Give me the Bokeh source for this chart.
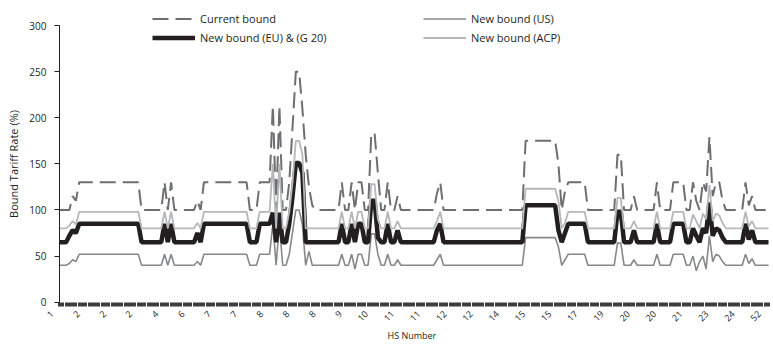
from math import pi
from bokeh.plotting import figure
from bokeh.models import Range1d, FixedTicker, LinearAxis, Legend, LegendItem, ColumnDataSource, Title
from bokeh.embed import file_html
from bokeh.resources import INLINE

# ---- data: one value per tariff line ----
current_bound = [
    100, 100, 100, 100, 115, 110,
    130, 130, 130, 130, 130, 130, 130, 130, 130, 130,
    130, 130, 130, 130, 130, 130, 130, 130, 130,
    100, 100, 100, 100, 100, 100, 100,
    130, 100, 130,
    100, 100, 100, 100, 100, 100, 100,
    110, 100,
    130, 130, 130, 130, 130, 130, 130, 130, 130, 130, 130, 130, 130, 130,
    100, 100, 100,
    130, 130, 130, 130,
    213, 100, 213, 100, 100, 130, 190, 250, 250, 210, 160, 125, 105,
    100, 100, 100, 100, 100, 100, 100, 100,
    130, 100, 100, 130, 100, 130, 130, 100, 100, 183, 183, 140, 100, 100, 130, 100, 100, 115,
    100, 100, 100, 100, 100, 100, 100, 100, 100, 100, 100,
    118, 130,
    100, 100, 100, 100, 100, 100, 100, 100, 100, 100,
    100, 100, 100, 100, 100, 100, 100, 100, 100, 100,
    100, 100, 100, 100, 100,
    175, 175, 175, 175, 175, 175, 175, 175, 175, 175,
    150, 100, 120,
    130, 130, 130, 130, 130, 130,
    100, 100, 100, 100, 100, 100, 100, 100, 100,
    160, 160,
    100, 100, 100,
    115,
    100, 100, 100, 100, 100, 100,
    130,
    100, 100, 100, 100,
    130, 130, 130, 130,
    100, 100, 130, 110, 100, 130, 120, 179, 115, 130, 130, 110,
    100, 100, 100, 100, 100, 100,
    130, 105, 115,
    100, 100, 100, 100, 100,
]

eu_g20_bound = [
    65, 65, 65, 72, 78, 75,
    85, 85, 85, 85, 85, 85, 85, 85, 85, 85,
    85, 85, 85, 85, 85, 85, 85, 85, 85,
    65, 65, 65, 65, 65, 65, 65,
    85, 65, 85,
    65, 65, 65, 65, 65, 65, 65,
    75, 65,
    85, 85, 85, 85, 85, 85, 85, 85, 85, 85, 85, 85, 85, 85,
    65, 65, 65,
    85, 85, 85, 85,
    97, 65, 97, 65, 65, 85, 115, 151, 151, 140, 65, 65, 65,
    65, 65, 65, 65, 65, 65, 65, 65,
    85, 65, 65, 85, 65, 85, 85, 65, 65, 110, 110, 70, 65, 65, 85, 65, 65, 78,
    65, 65, 65, 65, 65, 65, 65, 65, 65, 65, 65,
    78, 85,
    65, 65, 65, 65, 65, 65, 65, 65, 65, 65,
    65, 65, 65, 65, 65, 65, 65, 65, 65, 65,
    65, 65, 65, 65, 65,
    105, 105, 105, 105, 105, 105, 105, 105, 105, 105,
    78, 65, 75,
    85, 85, 85, 85, 85, 85,
    65, 65, 65, 65, 65, 65, 65, 65, 65,
    98, 98,
    65, 65, 65,
    78,
    65, 65, 65, 65, 65, 65,
    85,
    65, 65, 65, 65,
    85, 85, 85, 85,
    65, 65, 80, 72, 65, 80, 75, 108, 72, 80, 78, 70,
    65, 65, 65, 65, 65, 65,
    85, 68, 78,
    65, 65, 65, 65, 65,
]

us_bound = [
    40, 40, 40, 42, 46, 44,
    52, 52, 52, 52, 52, 52, 52, 52, 52, 52,
    52, 52, 52, 52, 52, 52, 52, 52, 52,
    40, 40, 40, 40, 40, 40, 40,
    52, 40, 52,
    40, 40, 40, 40, 40, 40, 40,
    44, 40,
    52, 52, 52, 52, 52, 52, 52, 52, 52, 52, 52, 52, 52, 52,
    40, 40, 40,
    52, 52, 52, 52,
    85, 40, 85, 40, 40, 52, 76, 100, 100, 84, 40, 55, 40,
    40, 40, 40, 40, 40, 40, 40, 40,
    52, 40, 40, 52, 36, 52, 52, 40, 40, 74, 74, 52, 40, 40, 52, 40, 40, 46,
    40, 40, 40, 40, 40, 40, 40, 40, 40, 40, 40,
    46, 52,
    40, 40, 40, 40, 40, 40, 40, 40, 40, 40,
    40, 40, 40, 40, 40, 40, 40, 40, 40, 40,
    40, 40, 40, 40, 40,
    70, 70, 70, 70, 70, 70, 70, 70, 70, 70,
    60, 40, 46,
    52, 52, 52, 52, 52, 52,
    40, 40, 40, 40, 40, 40, 40, 40, 40,
    64, 64,
    40, 40, 40,
    46,
    40, 40, 40, 40, 40, 40,
    52,
    40, 40, 40, 40,
    52, 52, 52, 52,
    40, 40, 50, 34, 44, 50, 36, 72, 44, 52, 50, 44,
    40, 40, 40, 40, 40, 40,
    52, 42, 47,
    40, 40, 40, 40, 40,
]

acp_bound = [
    80, 80, 80, 83, 88, 84,
    98, 98, 98, 98, 98, 98, 98, 98, 98, 98,
    98, 98, 98, 98, 98, 98, 98, 98, 98,
    80, 80, 80, 80, 80, 80, 80,
    98, 80, 98,
    80, 80, 80, 80, 80, 80, 80,
    86, 80,
    98, 98, 98, 98, 98, 98, 98, 98, 98, 98, 98, 98, 98, 98,
    80, 80, 80,
    98, 98, 98, 98,
    150, 80, 150, 80, 80, 98, 130, 175, 175, 160, 80, 80, 80,
    80, 80, 80, 80, 80, 80, 80, 80,
    98, 80, 80, 98, 80, 98, 98, 80, 80, 128, 128, 90, 80, 80, 98, 80, 80, 88,
    80, 80, 80, 80, 80, 80, 80, 80, 80, 80, 80,
    88, 98,
    80, 80, 80, 80, 80, 80, 80, 80, 80, 80,
    80, 80, 80, 80, 80, 80, 80, 80, 80, 80,
    80, 80, 80, 80, 80,
    123, 123, 123, 123, 123, 123, 123, 123, 123, 123,
    110, 80, 86,
    98, 98, 98, 98, 98, 98,
    80, 80, 80, 80, 80, 80, 80, 80, 80,
    113, 113,
    80, 80, 80,
    88,
    80, 80, 80, 80, 80, 80,
    98,
    80, 80, 80, 80,
    98, 98, 98, 98,
    80, 80, 95, 88, 80, 96, 90, 127, 88, 96, 94, 86,
    80, 80, 80, 80, 80, 80,
    98, 82, 88,
    80, 80, 80, 80, 80,
]

hs_labels = ["1", "2", "2", "2", "4", "6", "7", "7", "8", "8", "8", "9", "10", "11",
             "11", "12", "12", "14", "15", "15", "17", "19", "20", "20", "21", "23", "24", "52"]
y_ticks = [0, 50, 100, 150, 200, 250, 300]

# ---- build ----
n = min(len(current_bound), len(eu_g20_bound), len(us_bound), len(acp_bound))
line_idx = list(range(n))
src = ColumnDataSource(dict(x=line_idx, cur=current_bound[:n], eu=eu_g20_bound[:n],
                            us=us_bound[:n], acp=acp_bound[:n]))

FONT = "Open Sans"
TXT = "#231f20"

# The frame covers the canvas (except a strip for the x title); both axes are
# pinned at the data origin so their labels stay inside the frame.
px_per_line = 3.2824
x_start = -59 / px_per_line
x_end = (773 - 59) / px_per_line
units_per_px = 300 / 276.0
pad_top = 25 * units_per_px      # 25 px above 300
pad_bottom = 22.3 * units_per_px  # room under 0 for the rotated labels

p = figure(width=773, height=344, output_backend="svg", toolbar_location=None,
           x_range=Range1d(x_start, x_end), y_range=Range1d(-pad_bottom, 300 + pad_top),
           x_axis_type=None, y_axis_type=None,
           min_border_left=0, min_border_right=0, min_border_top=0, min_border_bottom=20)
p.outline_line_color = None
p.background_fill_color = "white"

r_cur = p.line("x", "cur", source=src, line_color="#6d6e71", line_width=2, line_dash="16 7")
r_us = p.line("x", "us", source=src, line_color="#87888a", line_width=1.6)
r_eu = p.line("x", "eu", source=src, line_color="#231f20", line_width=4.5)
r_acp = p.line("x", "acp", source=src, line_color="#b6b7b9", line_width=1.8)

# y axis
yax = LinearAxis(ticker=FixedTicker(ticks=y_ticks, minor_ticks=[]), fixed_location=0,
                 bounds=(0, 300), axis_label="Bound Tariff Rate (%)")
yax.axis_line_color = TXT
yax.major_tick_line_color = TXT
yax.major_tick_out = 5
yax.major_tick_in = 0
yax.minor_tick_out = 0
yax.major_label_standoff = 8
yax.major_label_text_font = FONT
yax.major_label_text_font_size = "10px"
yax.major_label_text_color = TXT
yax.axis_label_text_font = FONT
yax.axis_label_text_font_size = "11px"
yax.axis_label_text_font_style = "normal"
yax.axis_label_text_color = TXT
yax.axis_label_standoff = 5
p.add_layout(yax, "left")

# x axis: HS chapter label every 8th tariff line, dense tick band (one tick per line)
tick_pos = [round(-2.3 + 7.98 * j, 3) for j in range(len(hs_labels))]
xax = LinearAxis(ticker=FixedTicker(ticks=tick_pos, minor_ticks=line_idx), fixed_location=0)
xax.major_label_overrides = {t: lab for t, lab in zip(tick_pos, hs_labels)}
xax.major_label_orientation = pi / 4
xax.axis_line_color = None
xax.major_tick_out = 0
xax.major_tick_in = 0
xax.minor_tick_out = 4
xax.minor_tick_in = 0
xax.minor_tick_line_width = 3
xax.minor_tick_line_color = "#3c3c3c"
xax.major_label_standoff = 6
xax.major_label_text_font = FONT
xax.major_label_text_font_size = "9px"
xax.major_label_text_color = TXT
p.add_layout(xax, "below")

# x-axis title, under the middle of the data area as in the original
p.add_layout(Title(text="HS Number", align="left", offset=387, standoff=5,
                   text_font=FONT, text_font_size="9px", text_font_style="normal",
                   text_color=TXT), "below")

def make_legend(items, loc):
    lg = Legend(items=items, location=loc)
    lg.padding = 0
    lg.margin = 0
    lg.spacing = 0
    lg.border_line_color = None
    lg.background_fill_alpha = 0
    lg.glyph_width = 43
    lg.glyph_height = 19
    lg.label_height = 19
    lg.label_standoff = 5
    lg.label_text_font = FONT
    lg.label_text_font_size = "11px"
    lg.label_text_color = TXT
    return lg

p.add_layout(make_legend([LegendItem(label="Current bound", renderers=[r_cur]),
                          LegendItem(label="New bound (EU) & (G 20)", renderers=[r_eu])],
                         (152, 277)))
p.add_layout(make_legend([LegendItem(label="New bound (US)", renderers=[r_us]),
                          LegendItem(label="New bound (ACP)", renderers=[r_acp])],
                         (423, 277)))

open("out.html", "w").write(file_html(p, INLINE))
